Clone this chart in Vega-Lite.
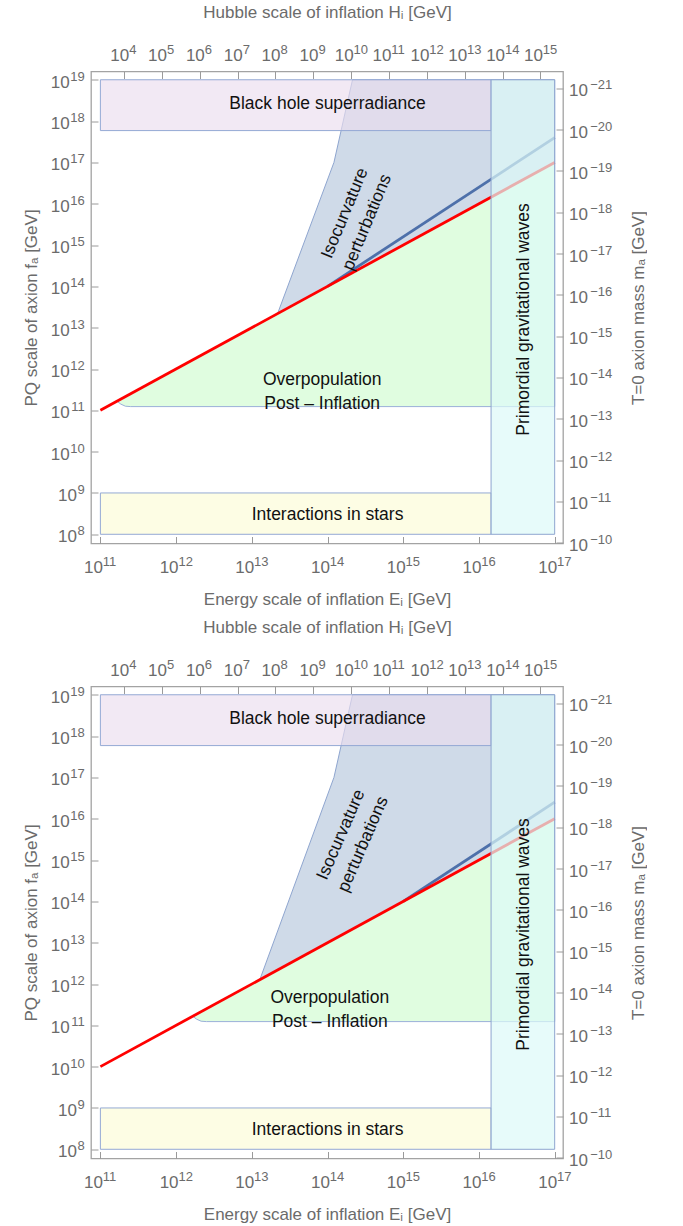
{
  "$schema": "https://vega.github.io/schema/vega-lite/v6.json",
  "background": "white",
  "padding": {"left": 21, "top": 1.5, "right": 0, "bottom": 0},
  "spacing": 8,
  "config": {
    "view": {"stroke": "#a3a3a3", "strokeWidth": 1.3},
    "axis": {"grid": false, "domain": false, "tickSize": -7, "tickColor": "#9a9a9a", "tickWidth": 1,
      "labelFont": "Liberation Sans", "labelFontSize": 17, "labelColor": "#6b6b6b",
      "titleFont": "Liberation Sans", "titleFontSize": 17, "titleFontWeight": "normal", "titleColor": "#6b6b6b",
      "labelOverlap": false, "labelFlush": false, "labelBound": false},
    "text": {"font": "Liberation Sans"}
  },
  "datasets": {
    "rects": [
      {"p": 1, "k": "bh", "E": 1e11, "E2": 1.4454e16, "f": 5.888e17, "f2": 1e19},
      {"p": 1, "k": "stars", "E": 1e11, "E2": 1.4454e16, "f": 1e8, "f2": 1e9},
      {"p": 1, "k": "gw", "E": 1.4454e16, "E2": 1e17, "f": 1e8, "f2": 1e19},
      {"p": 2, "k": "bh", "E": 1e11, "E2": 1.4454e16, "f": 5.888e17, "f2": 1e19},
      {"p": 2, "k": "stars", "E": 1e11, "E2": 1.4454e16, "f": 1e8, "f2": 1e9},
      {"p": 2, "k": "gw", "E": 1.4454e16, "E2": 1e17, "f": 1e8, "f2": 1e19}
    ],
    "areas": [
      {"p": 1, "k": "iso", "E": 2.188e13, "f": 2.188e13, "f2": 2.188e13},
      {"p": 1, "k": "iso", "E": 1.2162e14, "f": 1.2162e14, "f2": 1e17},
      {"p": 1, "k": "iso", "E": 2.138e14, "f": 2.138e14, "f2": 1e19},
      {"p": 1, "k": "iso", "E": 1e17, "f": 1e17, "f2": 1e19},
      {"p": 1, "k": "over", "E": 1.6596e11, "f": 1.6596e11, "f2": 1.6596e11},
      {"p": 1, "k": "over", "E": 1.8621e11, "f": 1.4125e11, "f2": 1.8621e11},
      {"p": 1, "k": "over", "E": 2.138e11, "f": 1.2589e11, "f2": 2.138e11},
      {"p": 1, "k": "over", "E": 2.5119e11, "f": 1.2303e11, "f2": 2.5119e11},
      {"p": 1, "k": "over", "E": 1e17, "f": 1.2303e11, "f2": 1e17},
      {"p": 2, "k": "iso", "E": 1.2764e13, "f": 1.2764e12, "f2": 1.2764e12},
      {"p": 2, "k": "iso", "E": 1.2162e14, "f": 1.2162e13, "f2": 1e17},
      {"p": 2, "k": "iso", "E": 2.138e14, "f": 2.138e13, "f2": 1e19},
      {"p": 2, "k": "iso", "E": 1e17, "f": 1e16, "f2": 1e19},
      {"p": 2, "k": "over", "E": 1.6596e12, "f": 1.6596e11, "f2": 1.6596e11},
      {"p": 2, "k": "over", "E": 1.8621e12, "f": 1.4125e11, "f2": 1.8621e11},
      {"p": 2, "k": "over", "E": 2.138e12, "f": 1.2589e11, "f2": 2.138e11},
      {"p": 2, "k": "over", "E": 2.5119e12, "f": 1.2303e11, "f2": 2.5119e11},
      {"p": 2, "k": "over", "E": 1e17, "f": 1.2303e11, "f2": 1e16}
    ],
    "lines": [
      {"p": 1, "k": "blue", "E": 1e14, "f": 1e14},
      {"p": 1, "k": "blue", "E": 1e17, "f": 3.981e17},
      {"p": 1, "k": "red", "E": 1e11, "f": 1e11},
      {"p": 1, "k": "red", "E": 1e17, "f": 1e17},
      {"p": 2, "k": "blue", "E": 1e15, "f": 1e14},
      {"p": 2, "k": "blue", "E": 1e17, "f": 2.512e16},
      {"p": 2, "k": "red", "E": 1e11, "f": 1e10},
      {"p": 2, "k": "red", "E": 1e17, "f": 1e16}
    ],
    "texts": [
      {"p": 1, "t": "Black hole superradiance", "E": 1e14, "f": 2.63e18, "a": 0},
      {"p": 1, "t": "Interactions in stars", "E": 1e14, "f": 2.951e8, "a": 0},
      {"p": 1, "t": "Primordial gravitational waves", "E": 3.89e16, "f": 1.585e13, "a": 270},
      {"p": 1, "t": "Isocurvature\nperturbations", "E": 1.698e14, "f": 5.888e15, "a": 292.5},
      {"p": 1, "t": "Overpopulation\nPost – Inflation", "E": 8.511e13, "f": 5.37e11, "a": 0},
      {"p": 2, "t": "Black hole superradiance", "E": 1e14, "f": 2.63e18, "a": 0},
      {"p": 2, "t": "Interactions in stars", "E": 1e14, "f": 2.951e8, "a": 0},
      {"p": 2, "t": "Primordial gravitational waves", "E": 3.89e16, "f": 1.585e13, "a": 270},
      {"p": 2, "t": "Isocurvature\nperturbations", "E": 1.5136e14, "f": 4.074e15, "a": 293.5},
      {"p": 2, "t": "Overpopulation\nPost – Inflation", "E": 1.0715e14, "f": 4.677e11, "a": 0}
    ]
  },
  "vconcat": [
    {
      "width": 472, "height": 472,
      "resolve": {"scale": {"x": "independent", "y": "independent"}},
      "layer": [
        {
          "encoding": {
            "x": {"field": "E", "type": "quantitative", "scale": {"type": "log", "domain": [7.516e10, 1.2882e17], "nice": false},
              "axis": {"orient": "bottom", "values": [1e11, 1e12, 1e13, 1e14, 1e15, 1e16, 1e17], "labelExpr": "'10'", "labelAlign": "center", "labelBaseline": "alphabetic", "labelOffset": -7.5, "labelPadding": 36, "title": "Energy scale of inflation Eᵢ [GeV]", "titlePadding": 16}},
            "y": {"field": "f", "type": "quantitative", "scale": {"type": "log", "domain": [5.984e7, 1.5849e19], "nice": false},
              "axis": {"orient": "left", "values": [1e8, 1e9, 1e10, 1e11, 1e12, 1e13, 1e14, 1e15, 1e16, 1e17, 1e18, 1e19], "labelExpr": "'10'", "labelAlign": "right", "labelBaseline": "alphabetic", "labelOffset": 7.5, "labelPadding": {"condition": {"test": "datum.value < 1e10", "value": 21.5}, "value": 28.8}, "title": "PQ scale of axion fₐ [GeV]", "titlePadding": 10}}
          },
          "layer": [
            {"data": {"name": "areas"}, "transform": [{"filter": "datum.p == 1 && datum.k == 'iso'"}],
             "mark": {"type": "area", "fill": "#cfdae8", "stroke": "#8ea5cf", "strokeWidth": 1},
             "encoding": {"y2": {"field": "f2"}}},
            {"data": {"name": "rects"}, "transform": [{"filter": "datum.p == 1 && datum.k != 'gw'"}],
             "mark": {"type": "rect", "fillOpacity": 0.65, "stroke": "#94a9d4", "strokeWidth": 1},
             "encoding": {"x2": {"field": "E2"}, "y2": {"field": "f2"},
               "fill": {"field": "k", "type": "nominal", "scale": {"domain": ["bh", "stars"], "range": ["#ebddee", "#fcfcd5"]}, "legend": null}}},
            {"data": {"name": "areas"}, "transform": [{"filter": "datum.p == 1 && datum.k == 'over'"}],
             "mark": {"type": "area", "fill": "#e0fde0", "stroke": "#9ab0d8", "strokeWidth": 1},
             "encoding": {"y2": {"field": "f2"}}},
            {"data": {"name": "lines"}, "transform": [{"filter": "datum.p == 1"}],
             "mark": {"type": "line", "strokeWidth": 2.8},
             "encoding": {"color": {"field": "k", "type": "nominal", "scale": {"domain": ["blue", "red"], "range": ["#4e70aa", "#ff0000"]}, "legend": null}}},
            {"data": {"name": "rects"}, "transform": [{"filter": "datum.p == 1 && datum.k == 'gw'"}],
             "mark": {"type": "rect", "fill": "#ddf9f8", "fillOpacity": 0.7, "stroke": "#8ea5cf", "strokeWidth": 1},
             "encoding": {"x2": {"field": "E2"}, "y2": {"field": "f2"}}},
            {"data": {"name": "texts"}, "transform": [{"filter": "datum.p == 1"}],
             "mark": {"type": "text", "fontSize": 17.5, "color": "#111111", "align": "center", "baseline": "middle", "lineBreak": "\n", "lineHeight": 24},
             "encoding": {"text": {"field": "t", "type": "nominal"}, "angle": {"field": "a", "type": "quantitative", "scale": null}}}
          ]
        },
        {
          "data": {"values": [{"H": 1e9, "m": 1e-15}]},
          "mark": {"type": "point", "opacity": 0},
          "encoding": {
            "x": {"field": "H", "type": "quantitative", "scale": {"type": "log", "domain": [1339.8, 3.9355e15], "nice": false},
              "axis": {"orient": "top", "values": [1e4, 1e5, 1e6, 1e7, 1e8, 1e9, 1e10, 1e11, 1e12, 1e13, 1e14, 1e15], "labelExpr": "'10'", "labelAlign": "center", "labelBaseline": "alphabetic", "labelPadding": 18.4, "labelOffset": {"condition": {"test": "datum.value < 1e10", "value": -4.9}, "value": -7.5}, "title": null}},
            "y": {"field": "m", "type": "quantitative", "scale": {"type": "log", "domain": [3.936e-22, 1.0423e-10], "nice": false, "reverse": true},
              "axis": {"orient": "right", "values": [1e-21, 1e-20, 1e-19, 1e-18, 1e-17, 1e-16, 1e-15, 1e-14, 1e-13, 1e-12, 1e-11, 1e-10], "labelExpr": "'10'", "labelAlign": "left", "labelBaseline": "alphabetic", "labelPadding": 12.5, "labelOffset": 7.5, "title": null}}
          }
        },
        {
          "data": {"values": [{"E": 1e14, "f": 1e12}]},
          "mark": {"type": "point", "opacity": 0},
          "encoding": {
            "x": {"field": "E", "type": "quantitative", "scale": {"type": "log", "domain": [7.516e10, 1.2882e17], "nice": false},
              "axis": {"orient": "bottom", "values": [1e11, 1e12, 1e13, 1e14, 1e15, 1e16, 1e17], "labelExpr": "(datum.value < 1 ? '−' : '') + round(abs(log(datum.value)/LN10))", "labelFontSize": 13, "labelAlign": "left", "labelBaseline": "alphabetic", "labelOffset": 1.8, "labelPadding": 22, "ticks": false, "tickSize": 0, "title": null}},
            "y": {"field": "f", "type": "quantitative", "scale": {"type": "log", "domain": [5.984e7, 1.5849e19], "nice": false},
              "axis": {"orient": "left", "values": [1e8, 1e9, 1e10, 1e11, 1e12, 1e13, 1e14, 1e15, 1e16, 1e17, 1e18, 1e19], "labelExpr": "(datum.value < 1 ? '−' : '') + round(abs(log(datum.value)/LN10))", "labelFontSize": 13, "labelAlign": "right", "labelBaseline": "alphabetic", "labelOffset": 0.5, "labelPadding": 6.8, "ticks": false, "tickSize": 0, "title": null}}
          }
        },
        {
          "data": {"values": [{"H": 1e9, "m": 1e-15}]},
          "mark": {"type": "point", "opacity": 0},
          "encoding": {
            "x": {"field": "H", "type": "quantitative", "scale": {"type": "log", "domain": [1339.8, 3.9355e15], "nice": false},
              "axis": {"orient": "top", "values": [1e4, 1e5, 1e6, 1e7, 1e8, 1e9, 1e10, 1e11, 1e12, 1e13, 1e14, 1e15], "labelExpr": "(datum.value < 1 ? '−' : '') + round(abs(log(datum.value)/LN10))", "labelFontSize": 13, "labelAlign": "left", "labelBaseline": "alphabetic", "labelOffset": {"condition": {"test": "datum.value < 1e10", "value": 4.6}, "value": 1.8}, "labelPadding": 18.4, "ticks": false, "tickSize": 0, "title": "Hubble scale of inflation Hᵢ [GeV]", "titlePadding": 22}},
            "y": {"field": "m", "type": "quantitative", "scale": {"type": "log", "domain": [3.936e-22, 1.0423e-10], "nice": false, "reverse": true},
              "axis": {"orient": "right", "values": [1e-21, 1e-20, 1e-19, 1e-18, 1e-17, 1e-16, 1e-15, 1e-14, 1e-13, 1e-12, 1e-11, 1e-10], "labelExpr": "(datum.value < 1 ? '−' : '') + round(abs(log(datum.value)/LN10))", "labelFontSize": 13, "labelAlign": "left", "labelBaseline": "alphabetic", "labelOffset": 0.5, "labelPadding": 26.7, "ticks": false, "tickSize": 0, "title": "T=0 axion mass mₐ [GeV]", "titleAngle": 270, "titleBaseline": "top", "titlePadding": 18.5}}
          }
        }
      ]
    },
    {
      "width": 472, "height": 472,
      "resolve": {"scale": {"x": "independent", "y": "independent"}},
      "layer": [
        {
          "encoding": {
            "x": {"field": "E", "type": "quantitative", "scale": {"type": "log", "domain": [7.516e10, 1.2882e17], "nice": false},
              "axis": {"orient": "bottom", "values": [1e11, 1e12, 1e13, 1e14, 1e15, 1e16, 1e17], "labelExpr": "'10'", "labelAlign": "center", "labelBaseline": "alphabetic", "labelOffset": -7.5, "labelPadding": 36, "title": "Energy scale of inflation Eᵢ [GeV]", "titlePadding": 16}},
            "y": {"field": "f", "type": "quantitative", "scale": {"type": "log", "domain": [5.984e7, 1.5849e19], "nice": false},
              "axis": {"orient": "left", "values": [1e8, 1e9, 1e10, 1e11, 1e12, 1e13, 1e14, 1e15, 1e16, 1e17, 1e18, 1e19], "labelExpr": "'10'", "labelAlign": "right", "labelBaseline": "alphabetic", "labelOffset": 7.5, "labelPadding": {"condition": {"test": "datum.value < 1e10", "value": 21.5}, "value": 28.8}, "title": "PQ scale of axion fₐ [GeV]", "titlePadding": 10}}
          },
          "layer": [
            {"data": {"name": "areas"}, "transform": [{"filter": "datum.p == 2 && datum.k == 'iso'"}],
             "mark": {"type": "area", "fill": "#cfdae8", "stroke": "#8ea5cf", "strokeWidth": 1},
             "encoding": {"y2": {"field": "f2"}}},
            {"data": {"name": "rects"}, "transform": [{"filter": "datum.p == 2 && datum.k != 'gw'"}],
             "mark": {"type": "rect", "fillOpacity": 0.65, "stroke": "#94a9d4", "strokeWidth": 1},
             "encoding": {"x2": {"field": "E2"}, "y2": {"field": "f2"},
               "fill": {"field": "k", "type": "nominal", "scale": {"domain": ["bh", "stars"], "range": ["#ebddee", "#fcfcd5"]}, "legend": null}}},
            {"data": {"name": "areas"}, "transform": [{"filter": "datum.p == 2 && datum.k == 'over'"}],
             "mark": {"type": "area", "fill": "#e0fde0", "stroke": "#9ab0d8", "strokeWidth": 1},
             "encoding": {"y2": {"field": "f2"}}},
            {"data": {"name": "lines"}, "transform": [{"filter": "datum.p == 2"}],
             "mark": {"type": "line", "strokeWidth": 2.8},
             "encoding": {"color": {"field": "k", "type": "nominal", "scale": {"domain": ["blue", "red"], "range": ["#4e70aa", "#ff0000"]}, "legend": null}}},
            {"data": {"name": "rects"}, "transform": [{"filter": "datum.p == 2 && datum.k == 'gw'"}],
             "mark": {"type": "rect", "fill": "#ddf9f8", "fillOpacity": 0.7, "stroke": "#8ea5cf", "strokeWidth": 1},
             "encoding": {"x2": {"field": "E2"}, "y2": {"field": "f2"}}},
            {"data": {"name": "texts"}, "transform": [{"filter": "datum.p == 2"}],
             "mark": {"type": "text", "fontSize": 17.5, "color": "#111111", "align": "center", "baseline": "middle", "lineBreak": "\n", "lineHeight": 24},
             "encoding": {"text": {"field": "t", "type": "nominal"}, "angle": {"field": "a", "type": "quantitative", "scale": null}}}
          ]
        },
        {
          "data": {"values": [{"H": 1e9, "m": 1e-15}]},
          "mark": {"type": "point", "opacity": 0},
          "encoding": {
            "x": {"field": "H", "type": "quantitative", "scale": {"type": "log", "domain": [1339.8, 3.9355e15], "nice": false},
              "axis": {"orient": "top", "values": [1e4, 1e5, 1e6, 1e7, 1e8, 1e9, 1e10, 1e11, 1e12, 1e13, 1e14, 1e15], "labelExpr": "'10'", "labelAlign": "center", "labelBaseline": "alphabetic", "labelPadding": 18.4, "labelOffset": {"condition": {"test": "datum.value < 1e10", "value": -4.9}, "value": -7.5}, "title": null}},
            "y": {"field": "m", "type": "quantitative", "scale": {"type": "log", "domain": [3.936e-22, 1.0423e-10], "nice": false, "reverse": true},
              "axis": {"orient": "right", "values": [1e-21, 1e-20, 1e-19, 1e-18, 1e-17, 1e-16, 1e-15, 1e-14, 1e-13, 1e-12, 1e-11, 1e-10], "labelExpr": "'10'", "labelAlign": "left", "labelBaseline": "alphabetic", "labelPadding": 12.5, "labelOffset": 7.5, "title": null}}
          }
        },
        {
          "data": {"values": [{"E": 1e14, "f": 1e12}]},
          "mark": {"type": "point", "opacity": 0},
          "encoding": {
            "x": {"field": "E", "type": "quantitative", "scale": {"type": "log", "domain": [7.516e10, 1.2882e17], "nice": false},
              "axis": {"orient": "bottom", "values": [1e11, 1e12, 1e13, 1e14, 1e15, 1e16, 1e17], "labelExpr": "(datum.value < 1 ? '−' : '') + round(abs(log(datum.value)/LN10))", "labelFontSize": 13, "labelAlign": "left", "labelBaseline": "alphabetic", "labelOffset": 1.8, "labelPadding": 22, "ticks": false, "tickSize": 0, "title": null}},
            "y": {"field": "f", "type": "quantitative", "scale": {"type": "log", "domain": [5.984e7, 1.5849e19], "nice": false},
              "axis": {"orient": "left", "values": [1e8, 1e9, 1e10, 1e11, 1e12, 1e13, 1e14, 1e15, 1e16, 1e17, 1e18, 1e19], "labelExpr": "(datum.value < 1 ? '−' : '') + round(abs(log(datum.value)/LN10))", "labelFontSize": 13, "labelAlign": "right", "labelBaseline": "alphabetic", "labelOffset": 0.5, "labelPadding": 6.8, "ticks": false, "tickSize": 0, "title": null}}
          }
        },
        {
          "data": {"values": [{"H": 1e9, "m": 1e-15}]},
          "mark": {"type": "point", "opacity": 0},
          "encoding": {
            "x": {"field": "H", "type": "quantitative", "scale": {"type": "log", "domain": [1339.8, 3.9355e15], "nice": false},
              "axis": {"orient": "top", "values": [1e4, 1e5, 1e6, 1e7, 1e8, 1e9, 1e10, 1e11, 1e12, 1e13, 1e14, 1e15], "labelExpr": "(datum.value < 1 ? '−' : '') + round(abs(log(datum.value)/LN10))", "labelFontSize": 13, "labelAlign": "left", "labelBaseline": "alphabetic", "labelOffset": {"condition": {"test": "datum.value < 1e10", "value": 4.6}, "value": 1.8}, "labelPadding": 18.4, "ticks": false, "tickSize": 0, "title": "Hubble scale of inflation Hᵢ [GeV]", "titlePadding": 22}},
            "y": {"field": "m", "type": "quantitative", "scale": {"type": "log", "domain": [3.936e-22, 1.0423e-10], "nice": false, "reverse": true},
              "axis": {"orient": "right", "values": [1e-21, 1e-20, 1e-19, 1e-18, 1e-17, 1e-16, 1e-15, 1e-14, 1e-13, 1e-12, 1e-11, 1e-10], "labelExpr": "(datum.value < 1 ? '−' : '') + round(abs(log(datum.value)/LN10))", "labelFontSize": 13, "labelAlign": "left", "labelBaseline": "alphabetic", "labelOffset": 0.5, "labelPadding": 26.7, "ticks": false, "tickSize": 0, "title": "T=0 axion mass mₐ [GeV]", "titleAngle": 270, "titleBaseline": "top", "titlePadding": 18.5}}
          }
        }
      ]
    }
  ]
}
